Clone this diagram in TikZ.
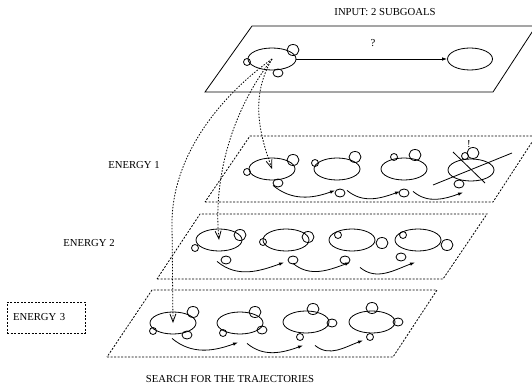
\documentclass[tikz,border=0pt]{standalone}
\usepackage{fontspec}
\setmainfont{Liberation Serif}
\usetikzlibrary{arrows.meta, shapes.geometric}

\begin{document}
\begin{tikzpicture}[
    x=1pt, y=-1pt, line width=0.8pt,
    every node/.style={font=\fontsize{10.7}{12}\selectfont},
    cell/.style={draw, ellipse, inner sep=0pt, minimum width=46pt, minimum height=22pt},
    bigc/.style={draw, ellipse, inner sep=0pt, minimum width=12pt, minimum height=11pt},
    midc/.style={draw, ellipse, inner sep=0pt, minimum width=10pt, minimum height=8pt},
    smlc/.style={draw, circle, inner sep=0pt, minimum size=7pt},
    layer/.style={dash pattern=on 2pt off 1.5pt},
    arr/.style={-{Latex[length=5pt, width=3.5pt]}, out=-40, in=200},
    probe/.style={-{Straight Barb[length=8pt, width=6pt]}, dash pattern=on 1.5pt off 1.5pt},
    note/.style={inner sep=0pt},
  ]
  \useasboundingbox (0,0) rectangle (532,387);
  \clip (0,0) rectangle (532,387);

  % Planes
  \draw (205,92) -- (493,92) -- (536,26) -- (252,26) -- cycle;
  \draw[layer] (205,202) -- (493,202) -- (536,136) -- (250,136) -- cycle;
  \draw[layer] (157,279) -- (443,279) -- (487,214) -- (200,214) -- cycle;
  \draw[layer] (107,357) -- (393,357) -- (437,290) -- (152,290) -- cycle;

  % Labels
  \node[note] (title)  at (385,12)  {INPUT: 2 SUBGOALS};
  \node[note] (qmark)  at (373,43)  {?};
  \node[note] (bang)   at (469,144) {!};
  \node[note] (en1)    at (134,165) {ENERGY 1};
  \node[note] (en2)    at (89,243)  {ENERGY 2};
  \node[draw, layer, minimum width=78pt, minimum height=31pt, text width=66pt,
        inner xsep=6pt, align=left] (en3) at (46,317.5) {ENERGY 3};
  \node[note] (search) at (230,379) {SEARCH FOR THE TRAJECTORIES};

  % Input subgoals
  \node[cell, minimum width=48pt] (start) at (272,59) {};
  \node[bigc] (startu) at (293,50) {};
  \node[smlc] (startl) at (247,62) {};
  \node[midc] (startd) at (278,73) {};
  \node[cell, minimum width=45pt] (goal) at (470,59) {};
  \draw[-{Latex[length=5pt, width=3.5pt]}] (start) -- (goal);

  % Energy 1
  \node[cell] (e11) at (272,169) {};
  \node[bigc] (e11u) at (293,160) {};
  \node[smlc] (e11l) at (247,172) {};
  \node[midc] (e11d) at (278,183) {};
  \node[cell] (e12) at (337,169) {};
  \node[bigc] (e12u) at (355,157) {};
  \node[smlc] (e12l) at (315,163) {};
  \node[midc] (e12d) at (340,193) {};
  \node[cell] (e13) at (404,169) {};
  \node[bigc] (e13u) at (415,155) {};
  \node[smlc] (e13l) at (394,157) {};
  \node[midc] (e13d) at (404,193) {};
  \node[cell] (e14) at (471,170) {};
  \node[bigc] (e14u) at (473,153) {};
  \node[smlc] (e14l) at (465,156) {};
  \node[midc] (e14d) at (459,184) {};
  \draw ([shift={(-38,15)}]e14.center) -- ([shift={(41,-17)}]e14.center);
  \draw ([shift={(-18,-18)}]e14.center) -- ([shift={(14,13)}]e14.center);

  \draw[arr] ([shift={(1,5)}]e11.south)  to ([shift={(-2,10)}]e12.south);
  \draw[arr] ([shift={(10,10)}]e12.south) to ([shift={(-4,11)}]e13.south);
  \draw[arr] ([shift={(9,11)}]e13.south)  to ([shift={(-8,11)}]e14.south);

  % Energy 2
  \node[cell] (e21) at (219,240) {};
  \node[bigc] (e21u) at (240,235) {};
  \node[smlc] (e21l) at (195,248) {};
  \node[midc] (e21d) at (226,260) {};
  \node[cell] (e22) at (286,240) {};
  \node[bigc] (e22u) at (308,237) {};
  \node[smlc] (e22l) at (263,242) {};
  \node[midc] (e22d) at (293,260) {};
  \node[cell] (e23) at (352,240) {};
  \node[smlc] (e23l) at (338,235) {};
  \node[bigc] (e23r) at (382,243) {};
  \node[midc] (e23d) at (345,260) {};
  \node[cell] (e24) at (418,240) {};
  \node[smlc] (e24l) at (403,235) {};
  \node[bigc] (e24r) at (447,245) {};
  \node[midc] (e24d) at (401,257) {};

  \draw[arr] ([shift={(-2,10)}]e21.south) to ([shift={(-2,11)}]e22.south);
  \draw[arr] ([shift={(7,12)}]e22.south)  to ([shift={(-2,11)}]e23.south);
  \draw[arr] ([shift={(8,16)}]e23.south)  to ([shift={(-3,11)}]e24.south);

  % Energy 3
  \node[cell] (e31) at (173,323) {};
  \node[bigc] (e31u) at (193,312) {};
  \node[smlc] (e31l) at (153,331) {};
  \node[midc] (e31d) at (187,335) {};
  \node[cell] (e32) at (240,323) {};
  \node[bigc] (e32u) at (255,312) {};
  \node[smlc] (e32l) at (223,333) {};
  \node[midc] (e32d) at (262,330) {};
  \node[cell] (e33) at (306,322) {};
  \node[bigc] (e33u) at (313,309) {};
  \node[midc] (e33r) at (332,323) {};
  \node[smlc] (e33d) at (300,337) {};
  \node[cell] (e34) at (372,322) {};
  \node[bigc] (e34u) at (372,308) {};
  \node[midc] (e34r) at (398,322) {};
  \node[smlc] (e34d) at (370,337) {};

  \draw[arr] ([shift={(-1,4)}]e31.south) to ([shift={(-2,8)}]e32.south);
  \draw[arr] ([shift={(7,9)}]e32.south)  to ([shift={(-3,12)}]e33.south);
  \draw[arr] ([shift={(9,12)}]e33.south) to ([shift={(-9,7)}]e34.south);

  % Search probes
  \draw[probe] (start.center) .. controls (248,100) and (262,140) .. (e11.center);
  \draw[probe] (start.center) .. controls (225,120) and (214,190) .. (e21.center);
  \draw[probe] (start.center) .. controls (215,100) and (172,160) .. (172,223) -- (e31.center);
\end{tikzpicture}
\end{document}
